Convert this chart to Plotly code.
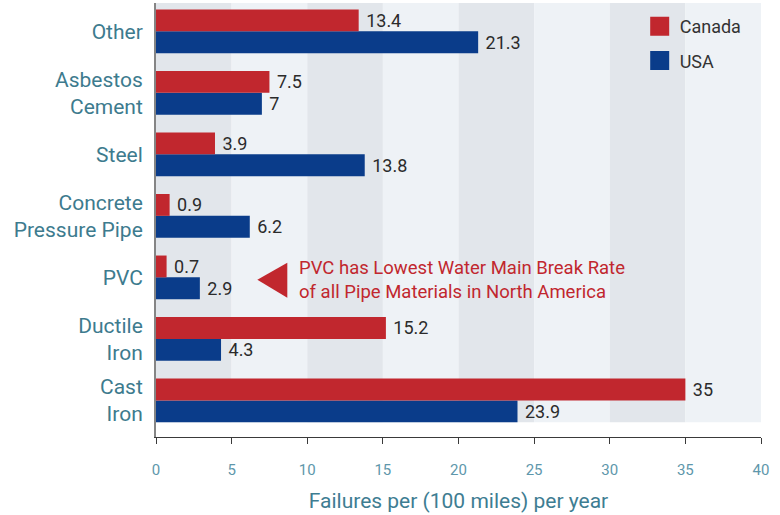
import plotly.graph_objects as go

# ---- data ----
categories = ["Cast Iron", "Ductile Iron", "PVC", "Concrete Pressure Pipe",
              "Steel", "Asbestos Cement", "Other"]
category_labels = ["Cast<br>Iron", "Ductile<br>Iron", "PVC", "Concrete<br>Pressure Pipe",
                   "Steel", "Asbestos<br>Cement", "Other"]
canada = [35, 15.2, 0.7, 0.9, 3.9, 7.5, 13.4]
usa = [23.9, 4.3, 2.9, 6.2, 13.8, 7, 21.3]
x_ticks = [0, 5, 10, 15, 20, 25, 30, 35, 40]

RED = "#c1272e"
BLUE = "#0a3c8a"
FONT = "Roboto"

fig = go.Figure()

# USA first so it sits below Canada in each group
fig.add_trace(go.Bar(
    y=categories, x=usa, orientation="h", name="USA",
    marker=dict(color=BLUE, line=dict(width=0)),
    texttemplate="\u00a0%{x}", textposition="outside", constraintext="none",
    textfont=dict(family=FONT, size=18, color="#2b2b2b"),
    cliponaxis=False, showlegend=False, hoverinfo="x+name",
))
fig.add_trace(go.Bar(
    y=categories, x=canada, orientation="h", name="Canada",
    marker=dict(color=RED, line=dict(width=0)),
    texttemplate="\u00a0%{x}", textposition="outside", constraintext="none",
    textfont=dict(family=FONT, size=18, color="#2b2b2b"),
    cliponaxis=False, showlegend=False, hoverinfo="x+name",
))

# legend entries (bigger square symbols)
for name, col in [("Canada", RED), ("USA", BLUE)]:
    fig.add_trace(go.Scatter(
        x=[None], y=[None], mode="markers", name=name,
        legendgroup=name,
        marker=dict(symbol="square", size=16, color=col, line=dict(color=col, width=3)),
    ))

# background bands
shapes = []
for i in range(len(x_ticks) - 1):
    shapes.append(dict(
        type="rect", xref="x", yref="paper",
        x0=x_ticks[i], x1=x_ticks[i + 1], y0=0.034, y1=1,
        fillcolor="#e2e6eb" if i % 2 == 0 else "#eef2f6",
        line=dict(width=0), layer="below",
    ))
# annotation arrow (triangle)
shapes.append(dict(
    type="path", xref="x", yref="paper",
    path="M 6.70,0.3625 L 8.68,0.4016 L 8.68,0.321 Z",
    fillcolor=RED, line=dict(width=0),
))

fig.update_layout(
    width=780, height=515,
    margin=dict(l=155.5, r=18.5, t=3, b=77.5, pad=0),
    paper_bgcolor="white", plot_bgcolor="white",
    barmode="group", bargap=0.29, bargroupgap=0,
    shapes=shapes,
    font=dict(family=FONT),
    legend=dict(
        x=(640 - 155.5) / 606, xanchor="left",
        y=0.9885, yanchor="top",
        font=dict(family=FONT, size=18, color="#333333"),
        bgcolor="rgba(0,0,0,0)", tracegroupgap=8,
    ),
    xaxis=dict(
        range=[0, 40], tickvals=x_ticks, ticktext=[str(v) for v in x_ticks],
        showgrid=False, zeroline=False,
        showline=True, linecolor="#3a3a3a", linewidth=1,
        ticks="outside", ticklen=6, tickcolor="#3a3a3a", tickwidth=1,
        tickfont=dict(family=FONT, size=15, color="#5e97ab"),
        ticklabelstandoff=13,
        title=dict(text="Failures per (100 miles) per year",
                   font=dict(family=FONT, size=21, color="#3e7d92"), standoff=15),
        automargin=False,
    ),
    yaxis=dict(
        type="category", categoryorder="array", categoryarray=categories,
        tickvals=categories, ticktext=category_labels,
        range=[-0.595, 6.46],
        showgrid=False, zeroline=False,
        showline=True, linecolor="#858585", linewidth=2,
        ticks="", ticklabelstandoff=7,
        tickfont=dict(family=FONT, size=21, color="#3d7b8e"),
        automargin=False,
    ),
    annotations=[dict(
        x=9.3, xref="x", y=0.361, yref="paper",
        xanchor="left", yanchor="middle", align="left", showarrow=False,
        text="PVC has Lowest Water Main Break Rate<br>of all Pipe Materials in North America",
        font=dict(family=FONT, size=18.5, color=RED),
    )],
)

fig.write_html("out.html", config={"displayModeBar": False},
               post_script="document.body.style.margin='0';")
